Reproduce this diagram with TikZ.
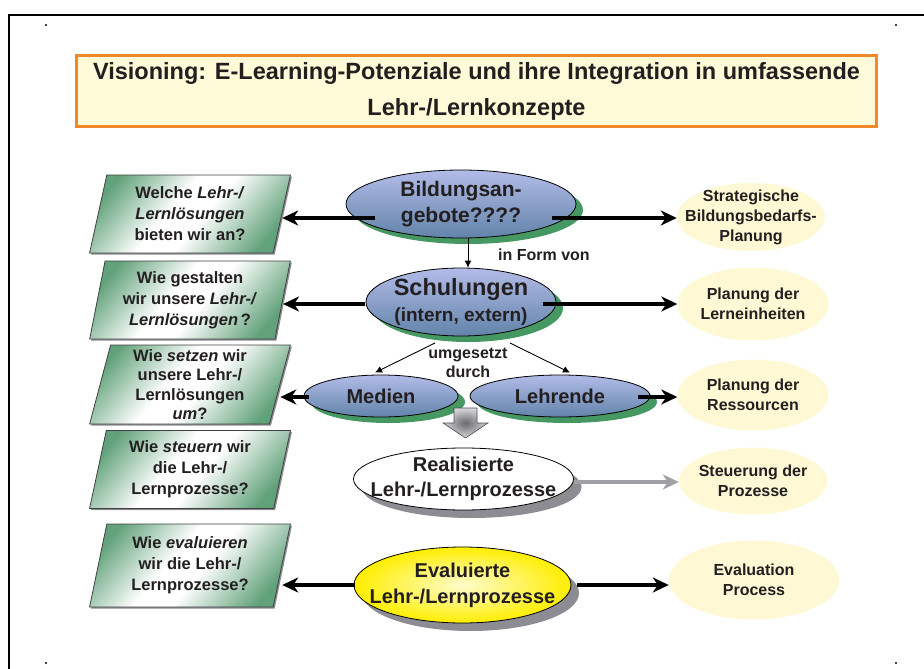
\documentclass[tikz,border=0pt]{standalone}
\usepackage{fontspec}
\setmainfont{Liberation Sans}
\usetikzlibrary{arrows.meta,calc,shapes.geometric,shadows}
\definecolor{txt}{RGB}{35,31,32}
\definecolor{titlefill}{RGB}{255,250,215}
\definecolor{titleline}{RGB}{240,135,40}
\definecolor{pale}{RGB}{255,248,212}
\definecolor{shgreen}{RGB}{70,152,98}
\definecolor{bluetop}{RGB}{178,188,232}
\definecolor{bluebot}{RGB}{98,132,170}
\definecolor{qgreen}{RGB}{98,162,122}
\definecolor{shgray}{RGB}{140,140,146}
\definecolor{yelout}{RGB}{255,238,0}
\definecolor{yelin}{RGB}{255,252,205}
\definecolor{arrgray}{RGB}{160,160,165}
\pgfdeclarehorizontalshading{qshade}{100bp}{color(0bp)=(qgreen); color(23bp)=(qgreen); color(44bp)=(white); color(54bp)=(white); color(76bp)=(qgreen); color(100bp)=(qgreen)}
\tikzset{
  lbl/.style={font=\fontsize{16}{19}\selectfont\bfseries, text=txt, inner sep=0pt},
  qbox/.style={trapezium, trapezium left angle=78, trapezium right angle=102,
    trapezium stretches=true, draw=black!75, line width=0.8pt,
    shading=qshade, shading angle=-40,
    drop shadow={shadow xshift=1.5pt, shadow yshift=-1.5pt, fill=shgray, opacity=1},
    minimum width=201pt, minimum height=78pt, inner sep=0pt, align=center,
    text=txt, font=\fontsize{16.5}{21}\selectfont\bfseries},
  blueell/.style={ellipse, draw=black, line width=0.8pt, top color=bluetop, bottom color=bluebot,
    drop shadow={shadow xshift=7pt, shadow yshift=-6pt, fill=shgreen, opacity=1}, inner sep=0pt},
  grayell/.style={ellipse, draw=black, line width=0.8pt,
    drop shadow={shadow xshift=8pt, shadow yshift=-8pt, fill=shgray, opacity=1}, inner sep=0pt},
  paleell/.style={ellipse, fill=pale, draw=none, inner sep=0pt},
  etext/.style={font=\fontsize{20}{26}\selectfont\bfseries, align=center, text=txt, inner sep=0pt},
  rtext/.style={font=\fontsize{16}{20}\selectfont\bfseries, align=center, text=txt, inner sep=0pt},
  bigarrow/.style={line width=3.2pt, draw=black, -{Stealth[length=16pt,width=15pt,inset=5pt]}},
  grayarrow/.style={line width=3.2pt, draw=arrgray, -{Stealth[length=16pt,width=15pt,inset=5pt]}},
  thinarrow/.style={line width=0.9pt, draw=black, -{Latex[length=7pt,width=7pt]}}
}
\begin{document}
\begin{tikzpicture}[x=1pt,y=-1pt]
\useasboundingbox (0,0) rectangle (924,669);
% frame
\draw[line width=2pt] (9,669) -- (9,15) -- (924,15);
\foreach \p in {(46,25),(896,25),(46,663),(896,663)} \fill \p circle (1.1pt);
% title
\node[draw=titleline, line width=3pt, fill=titlefill, minimum width=800pt, minimum height=71pt,
  align=center, text=txt, font=\fontsize{23.5}{36}\selectfont\bfseries] (title) at (476.5,91)
  {Visioning: E-Learning-Potenziale und ihre Integration in umfassende\\Lehr-/Lernkonzepte};
% question boxes
\node[qbox] (q1) at (190,214) {Welche \textit{Lehr-/}\\\textit{Lernlösungen}\\bieten wir an?};
\node[qbox] (q2) at (190,300) {Wie gestalten\\wir unsere \textit{Lehr-/}\\\textit{Lernlösungen}\,?};
\node[qbox, font=\fontsize{16.5}{19.5}\selectfont\bfseries, minimum height=79pt] (q3) at (190,384.5) {Wie \textit{setzen} wir\\unsere Lehr-/\\Lernlösungen\\\textit{um}?};
\node[qbox] (q4) at (190,469.5) {Wie \textit{steuern} wir\\die Lehr-/\\Lernprozesse?};
\node[qbox, minimum height=83pt] (q5) at (190,565.5) {Wie \textit{evaluieren}\\wir die Lehr-/\\Lernprozesse?};
% right ellipses
\node[paleell, minimum width=148pt, minimum height=68pt, label={[rtext]center:{Strategische\\Bildungsbedarfs-\\Planung}}] (r1) at (751,217) {};
\node[paleell, minimum width=151pt, minimum height=73pt, label={[rtext]center:{Planung der\\Lerneinheiten}}] (r2) at (753,304) {};
\node[paleell, minimum width=151pt, minimum height=71pt, label={[rtext]center:{Planung der\\Ressourcen}}] (r3) at (753,395) {};
\node[paleell, minimum width=148pt, minimum height=67pt, label={[rtext]center:{Steuerung der\\Prozesse}}] (r4) at (753,481) {};
\node[paleell, minimum width=170pt, minimum height=79pt, label={[rtext]center:{Evaluation\\Process}}] (r5) at (754,580) {};
% central ellipses
\node[blueell, minimum width=230pt, minimum height=68pt, label={[etext, font=\fontsize{21}{26}\selectfont\bfseries]center:{Bildungsan-\\gebote????}}] (bild) at (461,204) {};
\node[blueell, minimum width=190pt, minimum height=68pt, label={[etext]center:{{\fontsize{23.5}{29}\selectfont Schulungen}\\{\fontsize{19}{29}\selectfont (intern, extern)}}}] (schul) at (461,302) {};
\node[blueell, minimum width=154pt, minimum height=42pt, label={[etext]center:{Medien}}] (medien) at (381,396) {};
\node[blueell, minimum width=180pt, minimum height=42pt, label={[etext]center:{Lehrende}}] (lehr) at (560,396) {};
\node[grayell, fill=white, minimum width=220pt, minimum height=62pt, label={[etext, font=\fontsize{20}{25}\selectfont\bfseries]center:{Realisierte\\Lehr-/Lernprozesse}}] (real) at (463.5,479) {};
\node[grayell, inner color=yelin, outer color=yelout, minimum width=217pt, minimum height=76pt, label={[etext]center:{Evaluierte\\Lehr-/Lernprozesse}}] (eval) at (462.5,585) {};
% block arrow
\shade[draw=black!70, line width=0.6pt, inner color={rgb,255:red,105;green,105;blue,110}, outer color={rgb,255:red,215;green,215;blue,220}]
  (454,408) -- (477,408) -- (477,423) -- (488,423) -- (465.5,438) -- (443,423) -- (454,423) -- cycle;
% labels
\node[lbl, anchor=west] (inform) at (498,255) {in Form von};
\node[lbl, align=center] (umg) at (468,362.5) {umgesetzt\\durch};
% thin arrows
\draw[thinarrow] ([xshift=7pt]bild.south) -- ([xshift=7pt]bild.south |- schul.north);
\draw[thinarrow] ($(schul.center)+(-26,41)$) -- ($(medien.north)+(-6,-2)$);
\draw[thinarrow] ($(schul.center)+(49,41)$) -- ($(lehr.north)+(10,-2)$);
% big arrows
\coordinate (b1l) at ($(bild.center)+(-86,14)$);
\coordinate (b1r) at ($(bild.center)+(91,14)$);
\coordinate (b2l) at ($(schul.center)+(-96,2)$);
\coordinate (b2r) at ($(schul.center)+(82,2)$);
\coordinate (b3l) at ($(medien.center)+(-72,1)$);
\coordinate (b3r) at ($(lehr.center)+(78,1)$);
\coordinate (b4r) at ($(real.center)+(110,3)$);
\coordinate (b5l) at ($(eval.center)+(-108,0)$);
\coordinate (b5r) at ($(eval.center)+(114.5,0)$);
\draw[bigarrow] (b1l) -- (b1l -| q1.east);
\draw[bigarrow] (b1r) -- (b1r -| r1.west);
\draw[bigarrow] (b2l) -- (b2l -| q2.east);
\draw[bigarrow] (b2r) -- (b2r -| r2.west);
\draw[bigarrow] (b3l) -- (b3l -| q3.east);
\draw[bigarrow] (b3r) -- (b3r -| r3.west);
\draw[grayarrow] (b4r) -- (b4r -| r4.west);
\draw[bigarrow] (b5l) -- (b5l -| q5.east);
\draw[bigarrow] (b5r) -- (b5r -| r5.west);
\end{tikzpicture}
\end{document}
